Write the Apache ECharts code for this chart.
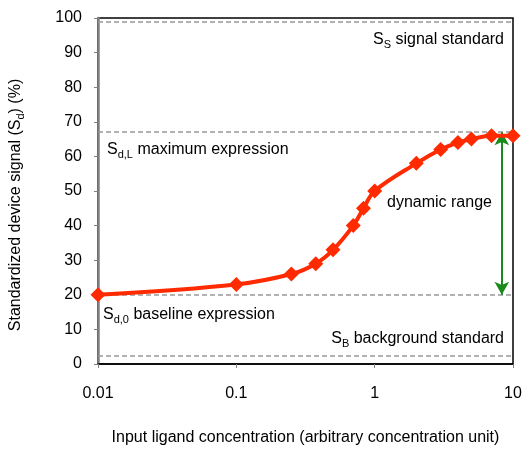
<!DOCTYPE html>
<html>
<head>
<meta charset="utf-8">
<script src="https://cdn.jsdelivr.net/npm/echarts@6/dist/echarts.min.js"></script>
<style>html,body{margin:0;padding:0;background:#fff}#c{width:530px;height:458px}</style>
</head>
<body>
<div id="c"></div>
<script>
// ---- data ----
const concentration = [0.01, 0.1, 0.25, 0.375, 0.5, 0.7, 0.83, 1, 2, 3, 4, 5, 7, 10];
const signal = [20, 23, 26, 29, 33, 40, 45, 50, 58, 62, 64, 65, 66, 66];
const referenceLevels = [99, 67, 20, 2.5]; // S_S, S_d,L, S_d,0, S_B
const arrowX = 8.3;
const arrowTop = 67;
const arrowBottom = 20;
const xTickLabels = ['0.01', '0.1', '1', '10'];
const yTicks = { min: 0, max: 100, interval: 10 };

const FONT = "'Liberation Sans', Arial, sans-serif";
const chart = echarts.init(document.getElementById('c'), null, { renderer: 'canvas' });

const richBase = {
  m: { fontSize: 16, fontFamily: FONT, color: '#000', lineHeight: 20 },
  s: { fontSize: 11, fontFamily: FONT, color: '#000', lineHeight: 11, verticalAlign: 'bottom' }
};
function txt(str, x, y, align) {
  return {
    type: 'text', x: x, y: y, z: 100,
    style: {
      text: str, rich: richBase, align: align, verticalAlign: 'middle',
      fill: '#000', font: '16px ' + FONT
    }
  };
}

chart.setOption({
  animation: false,
  backgroundColor: '#fff',
  grid: { left: 94, right: 17, top: 18, bottom: 94, show: true, borderColor: '#000', borderWidth: 1.5, backgroundColor: 'transparent' },
  xAxis: {
    type: 'log', logBase: 10, min: 0.01, max: 10,
    name: 'Input ligand concentration (arbitrary concentration unit)',
    nameLocation: 'middle', nameGap: 66,
    nameTextStyle: { fontSize: 16, fontFamily: FONT, color: '#000' },
    axisLine: { show: true, lineStyle: { color: '#000', width: 1.5 } },
    axisTick: { show: true, length: 4, lineStyle: { color: '#808080' } },
    minorTick: { show: false },
    splitLine: { show: false },
    axisLabel: {
      fontSize: 16, fontFamily: FONT, color: '#000', margin: 22,
      formatter: v => xTickLabels[Math.round(Math.log10(v)) + 2]
    }
  },
  yAxis: {
    type: 'value', min: yTicks.min, max: yTicks.max, interval: yTicks.interval,
    name: '{m|Standardized device signal (S}{s|d}{m|) (%)}',
    nameLocation: 'middle', nameGap: 72, nameRotate: 90,
    nameTextStyle: { fontSize: 16, fontFamily: FONT, color: '#000', rich: richBase, padding: [0, 28, 0, 0] },
    axisLine: { show: true, lineStyle: { color: '#808080', width: 2.5 } },
    axisTick: { show: true, length: 4, lineStyle: { color: '#808080' } },
    splitLine: { show: false },
    axisLabel: { fontSize: 16, fontFamily: FONT, color: '#000', margin: 16 }
  },
  series: [
    {
      type: 'line',
      data: concentration.map((c, i) => [c, signal[i]]),
      smooth: 0.35,
      symbol: 'diamond', symbolSize: 15,
      lineStyle: { color: '#ff2a00', width: 4 },
      itemStyle: { color: '#ff2a00' },
      z: 5,
      markLine: {
        silent: true, symbol: 'none', label: { show: false },
        lineStyle: { color: '#999', type: [5, 3], width: 1.5 },
        data: referenceLevels.map(v => ({ yAxis: v }))
      }
    },
    {
      type: 'line', data: [], z: 4,
      markLine: {
        silent: true, label: { show: false },
        symbol: ['arrow', 'arrow'], symbolSize: [11, 13],
        lineStyle: { color: '#1a8a1a', type: 'solid', width: 2 },
        data: [[{ coord: [arrowX, arrowTop] }, { coord: [arrowX, arrowBottom] }]]
      }
    }
  ],
  graphic: [
    txt('{m|S}{s|S}{m| signal standard}', 504, 40, 'right'),
    txt('{m|S}{s|d,L}{m| maximum expression}', 107, 150, 'left'),
    txt('{m|dynamic range}', 387, 203, 'left'),
    txt('{m|S}{s|d,0}{m| baseline expression}', 103, 315, 'left'),
    txt('{m|S}{s|B}{m| background standard}', 504, 339, 'right')
  ]
});
</script>
</body>
</html>
